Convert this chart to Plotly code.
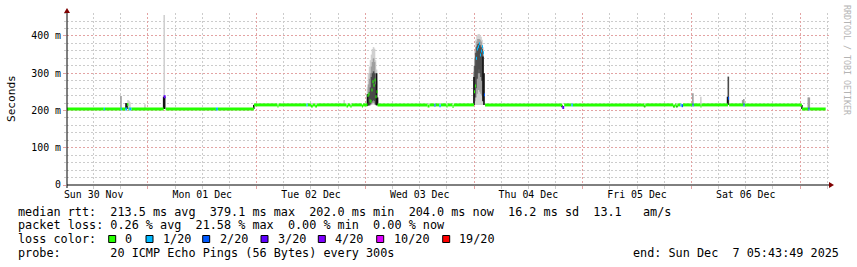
import plotly.graph_objects as go

# ---------------- data ----------------
median_time = [
    "2025-11-30 06:05", "2025-11-30 14:15", "2025-11-30 14:30", "2025-11-30 18:00", "2025-11-30 18:15",
    "2025-11-30 19:00", "2025-11-30 19:25", "2025-11-30 19:40", "2025-11-30 19:50", "2025-11-30 20:20",
    "2025-12-01 03:28", "2025-12-01 03:54", "2025-12-01 15:00", "2025-12-01 15:27", "2025-12-01 23:24",
    "2025-12-02 04:35", "2025-12-02 04:50", "2025-12-02 11:00", "2025-12-02 11:15", "2025-12-02 12:00",
    "2025-12-02 12:25", "2025-12-02 12:55", "2025-12-02 13:20", "2025-12-02 19:50", "2025-12-02 20:10",
    "2025-12-02 20:40", "2025-12-02 21:00", "2025-12-02 23:15", "2025-12-02 23:30",
    "2025-12-03 00:29", "2025-12-03 00:42", "2025-12-03 00:56", "2025-12-03 01:09", "2025-12-03 01:22",
    "2025-12-03 01:35", "2025-12-03 01:49", "2025-12-03 02:02", "2025-12-03 02:15", "2025-12-03 02:29",
    "2025-12-03 02:42",
    "2025-12-03 13:45", "2025-12-03 14:10", "2025-12-03 15:15", "2025-12-03 15:30", "2025-12-03 16:20",
    "2025-12-03 16:40", "2025-12-03 17:55", "2025-12-03 18:10", "2025-12-03 19:15", "2025-12-03 19:30",
    "2025-12-04 00:00", "2025-12-04 00:13", "2025-12-04 00:26", "2025-12-04 00:40", "2025-12-04 00:53",
    "2025-12-04 01:06", "2025-12-04 01:19", "2025-12-04 01:33", "2025-12-04 01:46", "2025-12-04 01:59",
    "2025-12-04 02:12", "2025-12-04 02:26",
    "2025-12-04 19:30", "2025-12-04 19:55", "2025-12-04 21:30", "2025-12-04 21:50",
    "2025-12-05 13:35", "2025-12-05 13:50", "2025-12-05 20:00", "2025-12-05 20:25", "2025-12-05 20:40",
    "2025-12-05 20:55", "2025-12-05 21:35", "2025-12-05 21:50", "2025-12-05 22:10",
    "2025-12-06 00:15", "2025-12-06 00:30", "2025-12-06 02:00", "2025-12-06 02:15", "2025-12-06 08:05",
    "2025-12-06 08:20", "2025-12-06 11:30", "2025-12-06 11:45",
    "2025-12-07 00:25", "2025-12-07 01:50", "2025-12-07 02:05", "2025-12-07 05:40",
]
median_ms = [
    204, 204, 204, 204, 204,
    204, 216, 204, 204, 204,
    237, 204, 204, 204, 215,
    212, 215, 215, 215, 212,
    215, 212, 215, 212, 215,
    212, 215, 212, 215,
    240, 244, 226, 224, 255,
    277, 268, 282, 237, 250,
    215,
    212, 215, 214, 215, 213,
    215, 212, 215, 211, 215,
    250, 266, 340, 365, 371,
    379, 349, 360, 371, 355,
    242, 215,
    208, 215, 215, 215,
    212, 215, 212, 215, 212,
    215, 215, 213, 215,
    215, 215, 212, 215, 233,
    215, 215, 215,
    204, 204, 204, 204,
]
median_loss = [
    0, 1, 0, 1, 0,
    1, 0, 0, 1, 0,
    3, 0, 1, 0, 0,
    0, 0, 1, 0, 0,
    0, 0, 0, 0, 0,
    0, 0, 0, 0,
    0, 0, 0, 0, 0,
    0, 0, 0, 0, 0,
    0,
    0, 0, 2, 0, 1,
    0, 0, 0, 0, 0,
    0, 0, 1, 1, 1,
    1, 1, 1, 1, 1,
    2, 0,
    3, 0, 1, 0,
    0, 0, 0, 0, 0,
    0, 1, 2, 0,
    2, 0, 0, 0, 2,
    0, 2, 0,
    0, 2, 0, 0,
]

smoke_time = [
    "2025-11-30 18:02", "2025-11-30 19:09", "2025-11-30 19:22", "2025-11-30 19:35", "2025-11-30 19:48",
    "2025-11-30 20:01", "2025-11-30 23:20", "2025-12-01 03:35", "2025-12-01 03:28", "2025-12-01 03:41",
    "2025-12-01 23:22", "2025-12-02 19:20",
    # spike Dec 3 - light
    "2025-12-03 00:29", "2025-12-03 00:42", "2025-12-03 00:56", "2025-12-03 01:09", "2025-12-03 01:22",
    "2025-12-03 01:35", "2025-12-03 01:49", "2025-12-03 02:02", "2025-12-03 02:15", "2025-12-03 02:29",
    # spike Dec 3 - mid
    "2025-12-03 00:42", "2025-12-03 00:56", "2025-12-03 01:09", "2025-12-03 01:22", "2025-12-03 01:35",
    "2025-12-03 01:49", "2025-12-03 02:02", "2025-12-03 02:15", "2025-12-03 02:29",
    # spike Dec 3 - dark / black
    "2025-12-03 00:29", "2025-12-03 00:42", "2025-12-03 00:56", "2025-12-03 01:09", "2025-12-03 01:22",
    "2025-12-03 01:35", "2025-12-03 01:49", "2025-12-03 02:02", "2025-12-03 02:15", "2025-12-03 02:29",
    "2025-12-03 02:42",
    # spike Dec 4 - light
    "2025-12-04 00:00", "2025-12-04 00:13", "2025-12-04 00:26", "2025-12-04 00:40", "2025-12-04 00:53",
    "2025-12-04 01:06", "2025-12-04 01:19", "2025-12-04 01:33", "2025-12-04 01:46", "2025-12-04 01:59",
    "2025-12-04 02:12",
    # spike Dec 4 - mid
    "2025-12-04 00:00", "2025-12-04 00:13", "2025-12-04 00:26", "2025-12-04 00:40", "2025-12-04 00:53",
    "2025-12-04 01:06", "2025-12-04 01:19", "2025-12-04 01:33", "2025-12-04 01:46", "2025-12-04 01:59",
    # spike Dec 4 - dark / black
    "2025-12-04 00:00", "2025-12-04 00:13", "2025-12-04 00:26", "2025-12-04 00:40", "2025-12-04 00:53",
    "2025-12-04 01:06", "2025-12-04 01:19", "2025-12-04 01:33", "2025-12-04 01:46", "2025-12-04 01:59",
    "2025-12-04 02:12",
    # later blips
    "2025-12-04 19:24", "2025-12-05 13:40", "2025-12-05 20:08", "2025-12-05 20:48", "2025-12-06 00:20",
    "2025-12-06 02:06", "2025-12-06 08:10", "2025-12-06 08:00", "2025-12-06 11:35", "2025-12-06 11:20",
    "2025-12-07 00:25", "2025-12-07 01:50", "2025-12-07 02:03",
]
smoke_lo = [
    204, 204, 204, 204, 204,
    204, 204, 204, 204, 204,
    204, 215,
    212, 214, 214, 214, 215,
    216, 216, 216, 215, 214,
    214, 214, 215, 218, 220,
    220, 220, 216, 214,
    212, 214, 214, 218, 222,
    225, 228, 225, 216, 214,
    214,
    215, 215, 215, 215, 215,
    215, 215, 215, 215, 215,
    215,
    220, 225, 235, 245, 255,
    255, 250, 245, 240, 235,
    215, 235, 260, 285, 300,
    310, 300, 290, 280, 225,
    215,
    209, 209, 209, 209, 215,
    212, 215, 215, 215, 215,
    204, 204, 204,
]
smoke_hi = [
    239, 220, 218, 228, 226,
    222, 217, 456, 237, 237,
    215, 228,
    262, 300, 318, 335, 350,
    365, 370, 366, 335, 310,
    270, 285, 300, 318, 330,
    340, 330, 300, 280,
    244, 244, 250, 262, 290,
    300, 305, 300, 270, 300,
    235,
    320, 360, 390, 400, 404,
    405, 402, 398, 390, 370,
    300,
    304, 340, 370, 385, 392,
    392, 390, 385, 375, 350,
    290, 320, 355, 372, 378,
    380, 375, 370, 365, 345,
    300,
    215, 213, 213, 213, 246,
    237, 291, 237, 231, 228,
    215, 235, 235,
]
smoke_shade = [
    "mid", "black", "black", "light", "light",
    "light", "light", "light", "black", "black",
    "black", "light",
    "light", "light", "light", "light", "light",
    "light", "light", "light", "light", "light",
    "mid", "mid", "mid", "mid", "mid",
    "mid", "mid", "mid", "mid",
    "black", "dark", "dark", "dark", "dark",
    "dark", "dark", "dark", "dark", "black",
    "black",
    "light", "light", "light", "light", "light",
    "light", "light", "light", "light", "light",
    "light",
    "mid", "mid", "mid", "mid", "mid",
    "mid", "mid", "mid", "mid", "mid",
    "black", "dark", "dark", "dark", "dark",
    "dark", "dark", "dark", "dark", "black",
    "black",
    "black", "black", "black", "black", "mid",
    "light", "dark", "black", "mid", "mid",
    "black", "mid", "mid",
]

loss_levels = [0, 1, 2, 3, 4, 10, 19]
loss_labels = ["0", "1/20", "2/20", "3/20", "4/20", "10/20", "19/20"]
loss_colors = ["#26ff00", "#00b8ff", "#0059ff", "#5e00ff", "#7e00ff", "#dd00ff", "#ff0000"]

shade_names = ["light", "mid", "dark", "black"]
shade_colors = ["#d0d0d0", "#9e9e9e", "#4a4a4a", "#111111"]

day_ticks = ["2025-12-01", "2025-12-02", "2025-12-03", "2025-12-04", "2025-12-05", "2025-12-06", "2025-12-07"]
label_ticks = ["2025-11-30 12:00", "2025-12-01 12:00", "2025-12-02 12:00", "2025-12-03 12:00",
               "2025-12-04 12:00", "2025-12-05 12:00", "2025-12-06 12:00"]
label_text = ["Sun 30 Nov", "Mon 01 Dec", "Tue 02 Dec", "Wed 03 Dec", "Thu 04 Dec", "Fri 05 Dec", "Sat 06 Dec"]
y_ticks = [0, 100, 200, 300, 400]
y_text = ["0", "100 m", "200 m", "300 m", "400 m"]

x_range = ["2025-11-30 06:07", "2025-12-07 06:24"]
y_range = [0, 461.7]

legend_rows = [
    "median rtt:  213.5 ms avg  379.1 ms max  202.0 ms min  204.0 ms now  16.2 ms sd  13.1   am/s",
    "packet loss: 0.26 % avg  21.58 % max  0.00 % min  0.00 % now",
    "loss color:",
    "probe:       20 ICMP Echo Pings (56 Bytes) every 300s",
]
end_text = "end: Sun Dec  7 05:43:49 2025"

# ---------------- layout helpers ----------------
W, H = 857, 267
L, R, T, B = 67, 829, 13, 185
MONO = "DejaVu Sans Mono"
MAJOR = "#e3a3a3"
MINOR = "#cccccc"


def px(x):
    return (x - L) / (R - L)


def py(y):
    return (B - y) / (B - T)


fig = go.Figure()

# smoke
for name, col in zip(shade_names, shade_colors):
    xs, ys = [], []
    for t, lo, hi, s in zip(smoke_time, smoke_lo, smoke_hi, smoke_shade):
        if s == name:
            xs += [t, t, None]
            ys += [lo, hi, None]
    fig.add_trace(go.Scatter(x=xs, y=ys, mode="lines", line=dict(color=col, width=1.6),
                             hoverinfo="skip", showlegend=False))

# median rtt, coloured by loss
for lvl, col in zip(loss_levels, loss_colors):
    xs, ys = [], []
    for i in range(len(median_time) - 1):
        if median_loss[i] == lvl:
            xs += [median_time[i], median_time[i + 1], None]
            ys += [median_ms[i], median_ms[i], None]
    if xs:
        fig.add_trace(go.Scatter(x=xs, y=ys, mode="lines", line=dict(color=col, width=3),
                                 hoverinfo="skip", showlegend=False))

# invisible trace so the label axis (x2) is drawn
fig.add_trace(go.Scatter(x=x_range, y=[0, 0], xaxis="x2", mode="markers",
                         marker=dict(opacity=0, size=1), hoverinfo="skip", showlegend=False))

shapes = []
# axis lines and arrows
shapes.append(dict(type="line", xref="paper", yref="paper", x0=px(L), x1=px(831), y0=py(B), y1=py(B),
                   line=dict(color="#000000", width=1)))
shapes.append(dict(type="line", xref="paper", yref="paper", x0=px(L), x1=px(L), y0=py(B + 3), y1=py(11),
                   line=dict(color="#000000", width=1)))
shapes.append(dict(type="path", xref="paper", yref="paper",
                   path=f"M {px(L)},{py(8)} L {px(L - 3)},{py(13)} L {px(L + 3)},{py(13)} Z",
                   fillcolor="#7f0000", line=dict(color="#7f0000", width=0)))
shapes.append(dict(type="path", xref="paper", yref="paper",
                   path=f"M {px(834)},{py(B)} L {px(829)},{py(B - 3)} L {px(829)},{py(B + 3)} Z",
                   fillcolor="#7f0000", line=dict(color="#7f0000", width=0)))

# legend colour boxes
box_x = [108.7, 146, 202.7, 261, 318.3, 376.7, 442.7]
lab_x = [123.3, 160.7, 218.3, 276, 333.3, 391.7, 457.3]
for bx, col in zip(box_x, loss_colors):
    shapes.append(dict(type="rect", xref="paper", yref="paper", x0=px(bx), x1=px(bx + 7),
                       y0=py(242.5), y1=py(235.5), fillcolor=col, line=dict(color="#000000", width=1)))

ann = []
row_y = [211.7, 225.2, 239, 252.7]
for txt, yy in zip(legend_rows, row_y):
    ann.append(dict(text=txt, xref="paper", yref="paper", x=px(16), y=py(yy), xanchor="left",
                    yanchor="middle", showarrow=False, font=dict(family=MONO, size=11.8, color="#000000")))
for lx, lab in zip(lab_x, loss_labels):
    ann.append(dict(text=lab, xref="paper", yref="paper", x=px(lx), y=py(239), xanchor="left",
                    yanchor="middle", showarrow=False, font=dict(family=MONO, size=11.8, color="#000000")))
ann.append(dict(text=end_text, xref="paper", yref="paper", x=px(841), y=py(252.7), xanchor="right",
                yanchor="middle", showarrow=False, font=dict(family=MONO, size=11.8, color="#000000")))
ann.append(dict(text="Seconds", xref="paper", yref="paper", x=px(11), y=py(99), xanchor="center",
                yanchor="middle", textangle=-90, showarrow=False,
                font=dict(family=MONO, size=11.1, color="#000000")))
ann.append(dict(text="RRDTOOL / TOBI OETIKER", xref="paper", yref="paper", x=px(847), y=py(60),
                xanchor="center", yanchor="middle", textangle=90, showarrow=False,
                font=dict(family=MONO, size=8.3, color="#b4b4b4")))

fig.update_layout(
    width=W, height=H,
    margin=dict(l=L, r=W - R, t=T, b=H - B, pad=0),
    paper_bgcolor="#ffffff", plot_bgcolor="#ffffff",
    showlegend=False,
    shapes=shapes, annotations=ann,
    xaxis=dict(type="date", range=x_range, tickmode="array", tickvals=day_ticks, showticklabels=False,
               ticks="outside", ticklen=3, tickcolor=MAJOR,
               showgrid=True, gridcolor=MAJOR, griddash="2px,2px", gridwidth=1,
               zeroline=False, showline=False,
               minor=dict(dtick=6 * 3600 * 1000, tick0="2025-11-30 00:00", showgrid=True,
                          gridcolor=MINOR, griddash="2px,2px", ticks="outside", ticklen=3, tickcolor=MINOR)),
    xaxis2=dict(type="date", range=x_range, overlaying="x", anchor="y", side="bottom",
                tickmode="array", tickvals=label_ticks, ticktext=label_text, ticks="",
                showgrid=False, zeroline=False, showline=False, ticklabelstandoff=2,
                tickfont=dict(family=MONO, size=9.9, color="#000000")),
    yaxis=dict(range=y_range, tickmode="array", tickvals=y_ticks, ticktext=y_text,
               ticks="outside", ticklen=3, tickcolor=MAJOR,
               showgrid=True, gridcolor=MAJOR, griddash="2px,2px", zeroline=False, showline=False,
               tickfont=dict(family=MONO, size=9.9, color="#000000"),
               minor=dict(dtick=20, showgrid=True, gridcolor=MINOR, griddash="2px,2px",
                          ticks="outside", ticklen=2, tickcolor=MINOR)),
)

fig.write_html("out.html")
